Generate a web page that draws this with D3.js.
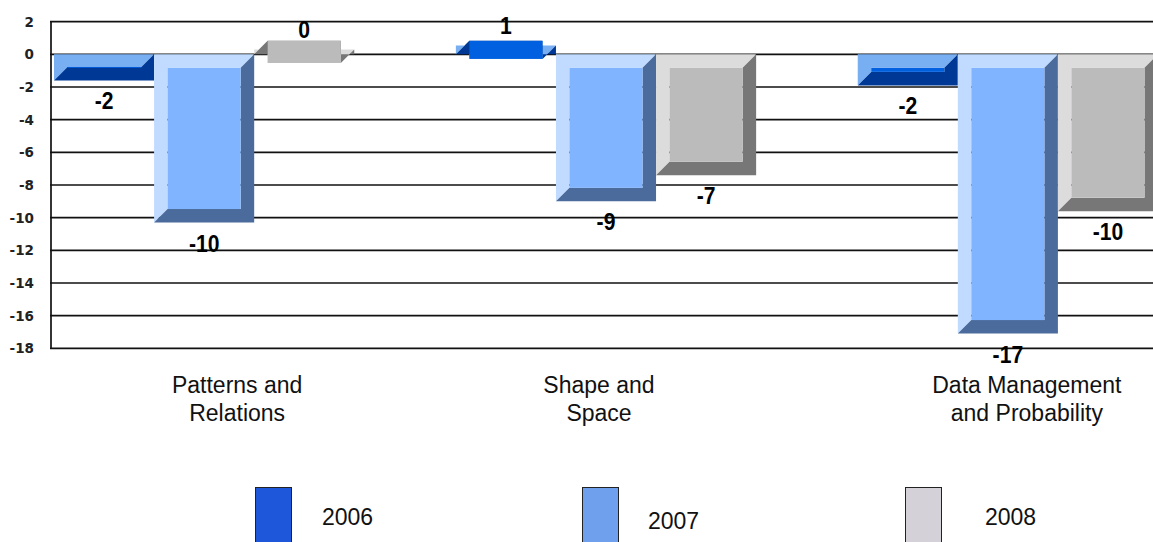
<!DOCTYPE html>
<html>
<head>
<meta charset="utf-8">
<script src="https://cdn.jsdelivr.net/npm/d3@7/dist/d3.min.js"></script>
<style>
  html, body { margin: 0; padding: 0; background: #fff; overflow: hidden; }
  svg { display: block; }
</style>
</head>
<body>
<svg id="chart" width="1153" height="542"></svg>
<script>
// ---- data ----
const categories = ["Patterns and Relations", "Shape and Space", "Data Management and Probability"];
const categoryLines = [["Patterns and", "Relations"], ["Shape and", "Space"], ["Data Management", "and Probability"]];
const years = ["2006", "2007", "2008"];
const values2006 = [-1.6, 0.55, -1.9];
const values2007 = [-10.3, -9.0, -17.1];
const values2008 = [0.3, -7.4, -9.6];
const yTicks = [2, 0, -2, -4, -6, -8, -10, -12, -14, -16, -18];

// ---- styling / layout ----
const barColors = {
  "2006": { light: "#78aef2", face: "#0060df", dark: "#003896" },
  "2007": { light: "#c0dbff", face: "#80b4fe", dark: "#4a6b9b" },
  "2008": { light: "#dcdcdc", face: "#bbbbbb", dark: "#777777" }
};
const legendColors = { "2006": "#1f57da", "2007": "#6fa0ee", "2008": "#d5d1d9" };
const legendX = [255, 582, 905];
const legendTextX = [322, 648, 985];
const legendTextY = [525, 529, 525];
const catLabelDx = [33, -7, 19];
const bevel = 13.5;

const svg = d3.select("#chart");
const plotLeft = 51, plotRight = 1153;

const y = d3.scaleLinear().domain([-18, 2]).range([348.3, 21.7]);
const x0 = d3.scaleBand().domain(categories).range([54, 1158]).paddingInner(0.2528).paddingOuter(0);
const x1 = d3.scaleBand().domain(years).range([0, x0.bandwidth()]);

const seriesValues = { "2006": values2006, "2007": values2007, "2008": values2008 };

// gridlines
svg.append("g").selectAll("line").data(yTicks).join("line")
  .attr("x1", plotLeft - 1).attr("x2", plotRight)
  .attr("y1", d => y(d)).attr("y2", d => y(d))
  .attr("stroke", "#111").attr("stroke-width", 1.7);

// axis line
svg.append("line")
  .attr("x1", plotLeft).attr("x2", plotLeft)
  .attr("y1", y(2)).attr("y2", y(-18))
  .attr("stroke", "#111").attr("stroke-width", 1.7);

// y tick labels
svg.append("g").selectAll("text").data(yTicks).join("text")
  .attr("x", 34).attr("y", d => y(d))
  .attr("dy", "0.36em")
  .attr("text-anchor", "end")
  .attr("font-family", "'DejaVu Sans', sans-serif")
  .attr("font-weight", "bold")
  .attr("font-size", "13.5px")
  .attr("fill", "#222")
  .text(d => d);

// bars
const bars = [];
categories.forEach((c, i) => {
  years.forEach(yr => {
    bars.push({ cat: c, idx: i, year: yr, value: seriesValues[yr][i] });
  });
});

const barG = svg.append("g");
bars.forEach(d => {
  const xa = x0(d.cat) + x1(d.year);
  const xb = xa + x1.bandwidth();
  const yT = Math.min(y(d.value), y(0));
  const yB = Math.max(y(d.value), y(0));
  const b = bevel;
  const col = barColors[d.year];
  const light = [[xa, yT], [xb, yT], [xb - b, yT + b], [xa + b, yT + b], [xa + b, yB - b], [xa, yB]];
  const dark = [[xb, yT], [xb, yB], [xa, yB], [xa + b, yB - b], [xb - b, yB - b], [xb - b, yT + b]];
  barG.append("polygon").attr("points", light.map(p => p.join(",")).join(" ")).attr("fill", col.light);
  barG.append("polygon").attr("points", dark.map(p => p.join(",")).join(" ")).attr("fill", col.dark);
  const fy0 = Math.min(yT + b, yB - b), fy1 = Math.max(yT + b, yB - b);
  barG.append("rect")
    .attr("x", xa + b).attr("y", fy0)
    .attr("width", Math.max(0, xb - xa - 2 * b)).attr("height", fy1 - fy0)
    .attr("fill", col.face);
});

// value labels (condensed via horizontal scale)
svg.append("g").selectAll("text").data(bars).join("text")
  .attr("transform", d => {
    const tx = x0(d.cat) + x1(d.year) + x1.bandwidth() / 2;
    const ty = d.value < 0 ? y(d.value) + 29 : y(d.value) - 11;
    return `translate(${tx},${ty}) scale(0.88,1)`;
  })
  .attr("text-anchor", "middle")
  .attr("font-family", "'Liberation Sans', Arial, sans-serif")
  .attr("font-weight", "bold")
  .attr("font-size", "24px")
  .attr("fill", "#000")
  .text(d => Math.round(d.value));

// category labels
const catG = svg.append("g");
categories.forEach((c, i) => {
  const cx = x0(c) + x0.bandwidth() / 2 + catLabelDx[i];
  const t = catG.append("text")
    .attr("text-anchor", "middle")
    .attr("font-family", "'Liberation Sans', Arial, sans-serif")
    .attr("font-size", "23px")
    .attr("fill", "#111");
  categoryLines[i].forEach((ln, j) => {
    t.append("tspan").attr("x", cx).attr("y", 393 + j * 28).text(ln);
  });
});

// legend
const legG = svg.append("g");
years.forEach((yr, i) => {
  legG.append("rect")
    .attr("x", legendX[i] + 0.5).attr("y", 487.5)
    .attr("width", 36).attr("height", 60)
    .attr("fill", legendColors[yr])
    .attr("stroke", "#222").attr("stroke-width", 1);
  legG.append("text")
    .attr("x", legendTextX[i]).attr("y", legendTextY[i])
    .attr("font-family", "'Liberation Sans', Arial, sans-serif")
    .attr("font-size", "23px")
    .attr("fill", "#111")
    .text(yr);
});
</script>
</body>
</html>
